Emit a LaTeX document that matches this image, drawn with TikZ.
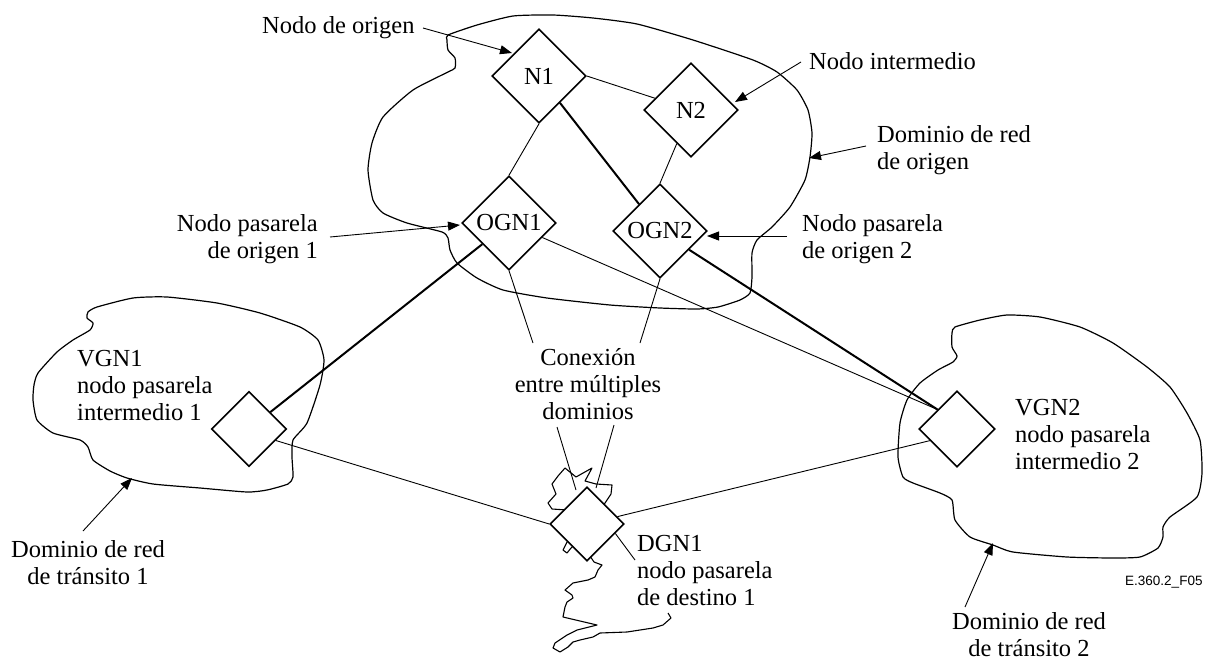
\documentclass[tikz,border=0pt]{standalone}
\usepackage{fontspec}
\setmainfont{Liberation Serif}
\newfontfamily\arialfont{Liberation Sans}
\usetikzlibrary{shapes.geometric,arrows.meta,calc}
\newcommand\dfont{\fontsize{24.5}{27}\selectfont}
\begin{document}
\begin{tikzpicture}[x=1pt,y=-1pt,
  gw/.style={draw,diamond,aspect=1,minimum width=#1,minimum height=#1,inner sep=0pt,fill=white,line width=1.6pt,font=\dfont},
  cloudline/.style={line width=1.2pt,line join=round},
  thin/.style={line width=0.9pt},
  thick/.style={line width=2pt},
  lbl/.style={inner sep=0pt,font=\dfont},
  arr/.style={line width=0.9pt,-{Triangle[length=12pt,width=9pt]}}
]
\path[use as bounding box] (0,0) rectangle (1208,662);

% clouds
\draw[cloudline] plot[smooth cycle,tension=0.35] coordinates {
(448,35) (477,25) (513,16) (553,15) (593,18) (637,24) (693,40) (753,60) (777,72) (797,90) (808,110) (812,133) (810,157) (805,180) (790,207) (772,227) (757,240) (752,253) (752,277) (750,293) (740,300) (718,307) (697,309) (660,308) (610,305) (547,298) (503,290) (477,278) (457,263) (450,250) (448,238) (442,232) (407,223) (383,213) (373,200) (368,170) (372,143) (383,117) (413,90) (448,72) (455,68) (455,58) (448,50) (447,40)};

\draw[cloudline] plot[smooth cycle,tension=0.35] coordinates {
(88,312) (97,307) (133,298) (167,297) (217,303) (260,313) (300,327) (318,340) (324,360) (320,385) (307,423) (293,440) (292,457) (293,477) (288,484) (267,490) (247,492) (200,488) (153,484) (127,478) (110,471) (93,460) (88,447) (80,440) (53,433) (37,420) (33,400) (34,385) (38,373) (57,352) (73,340) (90,330) (93,323) (87,318)};

\draw[cloudline] plot[smooth cycle,tension=0.35] coordinates {
(952,333) (955,327) (980,320) (1007,315) (1040,317) (1080,327) (1113,343) (1147,367) (1170,387) (1187,413) (1200,440) (1202,473) (1197,497) (1170,517) (1163,527) (1163,537) (1158,548) (1140,557) (1113,558) (1067,557) (1013,552) (993,545) (970,537) (955,520) (952,500) (940,493) (913,483) (903,477) (898,457) (900,423) (907,400) (920,383) (938,370) (953,362) (957,356) (952,347)};

\draw[line width=1.1pt,line join=round]
(567,510) -- (552,509) -- (548,503) -- (556,494) -- (552,484) -- (558,476) -- (565,468) -- (576,477) -- (592,468) -- (585,481) -- (596,484) -- (612,485) -- (611,494) -- (605,503) -- (585,530) -- (567,542) -- (563,550) -- (567,553) -- (571,548) -- (580,540) -- (590,556) -- (594,562) -- (602,565) -- (598,570) -- (595,577) -- (588,580) -- (573,583) -- (565,590) -- (572,595) -- (573,598) -- (567,602) -- (565,607) -- (563,617) -- (597,625) -- (577,630) -- (567,635) -- (555,643) -- (553,648) -- (560,652) -- (568,647) -- (573,642) -- (580,640) -- (593,637) -- (600,633) -- (627,632) -- (653,628) -- (663,625) -- (671,618) -- (668,613);

% nodes
\node[gw=94] (N1) at (539,76) {N1};
\node[gw=94] (N2) at (691,110) {N2};
\node[gw=94] (OGN1) at (509,223) {OGN1};
\node[gw=94] (OGN2) at (660,231) {OGN2};
\node[gw=75] (VGN1) at (249,429) {};
\node[gw=76] (VGN2) at (957,429) {};
\node[gw=74] (DGN1) at (587,524) {};

\coordinate (v2in) at ($(VGN2.west)!0.5!(VGN2.north)$);
\coordinate (v2low) at ($(VGN2.west)!0.3!(VGN2.south)$);
\coordinate (v1low) at ($(VGN1.east)!0.3!(VGN1.south)$);
\coordinate (d1lr) at ($(DGN1.east)!0.25!(DGN1.south)$);

% connectors
\draw[thin] (N1.east) -- (N2);
\draw[thin] (N1.south) -- (OGN1.north);
\draw[thick] (N1) -- (OGN2);
\draw[thin] (N2) -- (OGN2.north);
\draw[thick] (OGN1) -- (VGN1);
\draw[thin] (OGN1) -- (v2in);
\draw[thick] (OGN2) -- (v2in);
\draw[thin] (v1low) -- (DGN1.west);
\draw[thin] (DGN1) -- (v2low);

% labels (base anchor = baseline of the last line)
\node[lbl,anchor=base west] (lNO) at (262,33) {Nodo de origen};
\node[lbl,anchor=base west] (lNI) at (809,69) {Nodo intermedio};
\node[lbl,anchor=base west,align=left] (lDO) at (877,169.7) {Dominio de red\\de origen};
\node[lbl,anchor=base east,align=right] (lP1) at (318,258.5) {Nodo pasarela\\de origen 1};
\node[lbl,anchor=base west,align=left] (lP2) at (802,258.5) {Nodo pasarela\\de origen 2};
\node[lbl,anchor=base,align=center] (lCX) at (588,419.5) {Conexión\\entre múltiples\\dominios};
\node[lbl,anchor=base west,align=left] (lV1) at (77,420) {VGN1\\nodo pasarela\\intermedio 1};
\node[lbl,anchor=base west,align=left] (lV2) at (1015,469) {VGN2\\nodo pasarela\\intermedio 2};
\node[lbl,anchor=base west,align=left] (lD1) at (637,605.7) {DGN1\\nodo pasarela\\de destino 1};
\node[lbl,anchor=base,align=center] (lT1) at (88,584) {Dominio de red\\de tránsito 1};
\node[lbl,anchor=base,align=center] (lT2) at (1029,656) {Dominio de red\\de tránsito 2};
\node[inner sep=0pt,anchor=base west,font=\arialfont\fontsize{13.5}{15}\selectfont] (fig) at (1125,585) {E.360.2\_F05};

% leader lines
\coordinate (cx1) at (533,343);
\coordinate (cx2) at (640,343);
\coordinate (cx3) at (557,427);
\coordinate (cx4) at (614,425);
\coordinate (dg1) at (576,490);
\coordinate (dg2) at (596,488);
\coordinate (d1t) at (635,560);
\draw[thin] (OGN1.south) -- (cx1);
\draw[thin] (OGN2.south) -- (cx2);
\draw[thin] (cx3) -- (dg1);
\draw[thin] (cx4) -- (dg2);
\draw[thin] (d1lr) -- (d1t);

% arrows
\coordinate (t1) at (423,28);  \coordinate (h1) at (512,53);
\coordinate (t2) at (801,62);  \coordinate (h2) at (735,102);
\coordinate (t3) at (866,146); \coordinate (h3) at (809,158);
\coordinate (t4) at (330,237); \coordinate (h4) at (460,225);
\coordinate (t5) at (787,236); \coordinate (h5) at (707,236);
\coordinate (t6) at (83,531);  \coordinate (h6) at (132,478);
\coordinate (t7) at (965,607); \coordinate (h7) at (993,543);
\draw[arr] (t1) -- (h1);
\draw[arr] (t2) -- (h2);
\draw[arr] (t3) -- (h3);
\draw[arr] (t4) -- (h4);
\draw[arr] (t5) -- (h5);
\draw[arr] (t6) -- (h6);
\draw[arr] (t7) -- (h7);
\end{tikzpicture}
\end{document}
